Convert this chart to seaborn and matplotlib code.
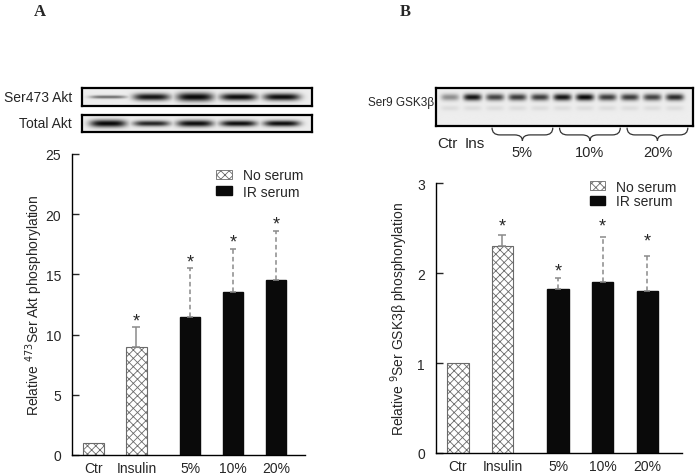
import numpy as np
import pandas as pd
import seaborn as sns
import matplotlib.pyplot as plt
from matplotlib.patches import Patch, PathPatch
from matplotlib.path import Path

# ---- data ----
conditions = ["Ctr", "Insulin", "5%", "10%", "20%"]
groups = ["No serum", "No serum", "IR serum", "IR serum", "IR serum"]
bar_pos = [0, 1, 2.25, 3.25, 4.25]

akt_mean = [1.0, 9.0, 11.5, 13.5, 14.5]
akt_err = [0.0, 1.6, 4.0, 3.6, 4.1]
akt_star = [None, 11.1, 16.0, 17.7, 19.2]

gsk_mean = [1.0, 2.3, 1.82, 1.9, 1.8]
gsk_err = [0.0, 0.12, 0.12, 0.5, 0.39]
gsk_star = [None, 2.52, 2.02, 2.52, 2.36]

# western blot band densities (0 = empty, 1 = black) and band half-thickness
akt_p_dens = [0.55, 0.92, 0.97, 0.95, 0.95]
akt_p_thick = [0.09, 0.2, 0.24, 0.2, 0.2]
akt_t_dens = [0.97, 0.85, 0.95, 0.95, 0.95]
akt_t_thick = [0.22, 0.17, 0.2, 0.18, 0.18]
gsk_dens = [0.4, 0.92, 0.72, 0.75, 0.75, 0.92, 0.97, 0.75, 0.75, 0.72, 0.82]
gsk_lane_labels = ["Ctr", "Ins"]
gsk_group_labels = ["5%", "10%", "20%"]
gsk_group_lanes = [[2, 3, 4], [5, 6, 7], [8, 9, 10]]

W, H = 697, 477
sns.set_style("ticks")
plt.rcParams['font.family'] = ['Liberation Sans', 'DejaVu Sans']
plt.rcParams['hatch.linewidth'] = 0.6

fig = plt.figure(figsize=(W / 100, H / 100), dpi=100)


def box(x0, y0, x1, y1):
    # pixel box (top-left origin) -> figure fraction rect
    return [x0 / W, 1 - y1 / H, (x1 - x0) / W, (y1 - y0) / H]


def blot(ax, dens, thick, yc, halfw, xlim, faint=None):
    xs = np.linspace(xlim[0], xlim[1], 700)
    ys = np.linspace(0, 1, 90)
    X, Y = np.meshgrid(xs, ys)
    img = np.zeros_like(X)
    for i, d in enumerate(dens):
        t = thick[i] if isinstance(thick, list) else thick
        px = np.exp(-np.abs((X - i) / halfw) ** 4)
        py = np.exp(-((Y - yc) / t) ** 2)
        img = np.maximum(img, d * px * py)
        if faint is not None:
            img = np.maximum(img, faint[1] * px * np.exp(-((Y - faint[0]) / 0.07) ** 2))
    ax.imshow(0.93 * (1 - img), cmap="gray", vmin=0, vmax=1,
              extent=(xlim[0], xlim[1], 1, 0), aspect="auto", interpolation="bilinear")
    ax.set_xlim(xlim)
    ax.set_ylim(1, 0)
    ax.set_xticks([])
    ax.set_yticks([])
    for s in ax.spines.values():
        s.set_linewidth(1.6)
        s.set_color("black")
        s.set_visible(True)


def bars(ax, means, errs, stars, width, xlim, yticks, ylabel):
    df = pd.DataFrame({"pos": bar_pos, "val": means, "group": groups})
    sns.barplot(data=df, x="pos", y="val", hue="group", native_scale=True,
                dodge=False, width=width, palette={"No serum": "white", "IR serum": "#0a0a0a"},
                errorbar=None, legend=False, ax=ax)
    for p in ax.patches:
        cx = p.get_x() + p.get_width() / 2
        i = int(np.argmin([abs(cx - b) for b in bar_pos]))
        if groups[i] == "No serum":
            p.set_facecolor("white")
            p.set_edgecolor("#6a6a6a")
            p.set_hatch("xxxx")
            p.set_linewidth(0.8)
        else:
            p.set_facecolor("#0a0a0a")
            p.set_edgecolor("#0a0a0a")
    for i in range(len(bar_pos)):
        if errs[i] > 0:
            eb = ax.errorbar(bar_pos[i], means[i], yerr=[[0], [errs[i]]], fmt="none",
                             ecolor="#8a8a8a", elinewidth=1.1,
                             capsize=3 if groups[i] == "No serum" else 2, capthick=1.1)
            if groups[i] == "IR serum":
                eb[2][0].set_linestyle((0, (3, 2)))
        if stars[i] is not None:
            ax.text(bar_pos[i], stars[i], "*", ha="center", va="center", fontsize=13)
    ax.set_xlim(xlim)
    ax.set_ylim(0, yticks[-1])
    ax.set_yticks(yticks)
    ax.set_xticks(bar_pos)
    ax.set_xticklabels(conditions)
    ax.tick_params(axis="x", length=0, labelsize=10, pad=4)
    ax.tick_params(axis="y", length=5, width=1, labelsize=10, direction="in", pad=8)
    ax.set_xlabel("")
    ax.set_ylabel(ylabel, fontsize=10)
    sns.despine(ax=ax)
    for s in ("left", "bottom"):
        ax.spines[s].set_color("black")
        ax.spines[s].set_linewidth(1)
    handles = [Patch(facecolor="white", edgecolor="#6a6a6a", hatch="xxxx", linewidth=0.6, label="No serum"),
               Patch(facecolor="#0a0a0a", edgecolor="#0a0a0a", label="IR serum")]
    return handles


# ---- panel A ----
axA = fig.add_axes(box(72, 155, 305, 456))
hA = bars(axA, akt_mean, akt_err, akt_star, 0.47, (-0.5, 4.92), [0, 5, 10, 15, 20, 25],
          "Relative $^{473}$Ser Akt phosphorylation")
axA.legend(handles=hA, loc="upper left", bbox_to_anchor=(0.62, 0.952), frameon=False,
           fontsize=10, handlelength=1.1, handleheight=0.6, handletextpad=0.8,
           labelspacing=0.15, borderpad=0, borderaxespad=0)
axA.yaxis.set_label_coords(-0.115, 0.5)

b1 = fig.add_axes(box(82, 89, 312, 107))
blot(b1, akt_p_dens, akt_p_thick, 0.5, 0.42, (-0.6, 4.69))
b2 = fig.add_axes(box(82, 116, 312, 133))
blot(b2, akt_t_dens, akt_t_thick, 0.5, 0.42, (-0.6, 4.69))
fig.text(72 / W, 1 - 98 / H, "Ser473 Akt", ha="right", va="center", fontsize=10)
fig.text(72 / W, 1 - 124 / H, "Total Akt", ha="right", va="center", fontsize=10)

# ---- panel B ----
axB = fig.add_axes(box(436, 184, 682, 454))
hB = bars(axB, gsk_mean, gsk_err, gsk_star, 0.48, (-0.49, 5.03), [0, 1, 2, 3],
          "Relative $^{9}$Ser GSK3\u03b2 phosphorylation")
axB.legend(handles=hB, loc="upper left", bbox_to_anchor=(0.625, 1.012), frameon=False,
           fontsize=10, handlelength=1.1, handleheight=0.6, handletextpad=0.8,
           labelspacing=0.05, borderpad=0, borderaxespad=0)
axB.yaxis.set_label_coords(-0.107, 0.5)

gx = (-0.62, 10.8)
b3 = fig.add_axes(box(436, 89, 693, 127))
blot(b3, gsk_dens, 0.09, 0.24, 0.4, gx, faint=(0.53, 0.07))
fig.text(434 / W, 1 - 103 / H, "Ser9 GSK3\u03b2", ha="right", va="center", fontsize=8.5)

lab = fig.add_axes(box(436, 127, 693, 160))
lab.set_xlim(gx)
lab.set_ylim(1, 0)
lab.axis("off")
for i, t in enumerate(gsk_lane_labels):
    lab.text(i * 1.2 - 0.12, 0.5, t, ha="center", va="center", fontsize=11)
for lanes, t in zip(gsk_group_lanes, gsk_group_labels):
    xm = np.mean(lanes) + 0.22
    x0, x1 = xm - 1.35, xm + 1.35
    r = 0.35
    verts = [(x0, 0.05), (x0, 0.27), (x0 + r, 0.27), (xm - r, 0.27), (xm, 0.27), (xm, 0.45),
             (xm, 0.27), (xm + r, 0.27), (x1 - r, 0.27), (x1, 0.27), (x1, 0.05)]
    codes = [Path.MOVETO, Path.CURVE3, Path.CURVE3, Path.LINETO, Path.CURVE3, Path.CURVE3,
             Path.CURVE3, Path.CURVE3, Path.LINETO, Path.CURVE3, Path.CURVE3]
    lab.add_patch(PathPatch(Path(verts, codes), fill=False, edgecolor="#333333", linewidth=0.9))
    lab.text(xm, 0.8, t, ha="center", va="center", fontsize=10.5)

# panel letters
fig.text(40 / W, 1 - 12 / H, "A", ha="center", va="center", fontsize=12,
         fontweight="bold", family=["Liberation Serif", "DejaVu Serif"])
fig.text(405 / W, 1 - 12 / H, "B", ha="center", va="center", fontsize=12,
         fontweight="bold", family=["Liberation Serif", "DejaVu Serif"])

fig.savefig("out.png", dpi=100)
